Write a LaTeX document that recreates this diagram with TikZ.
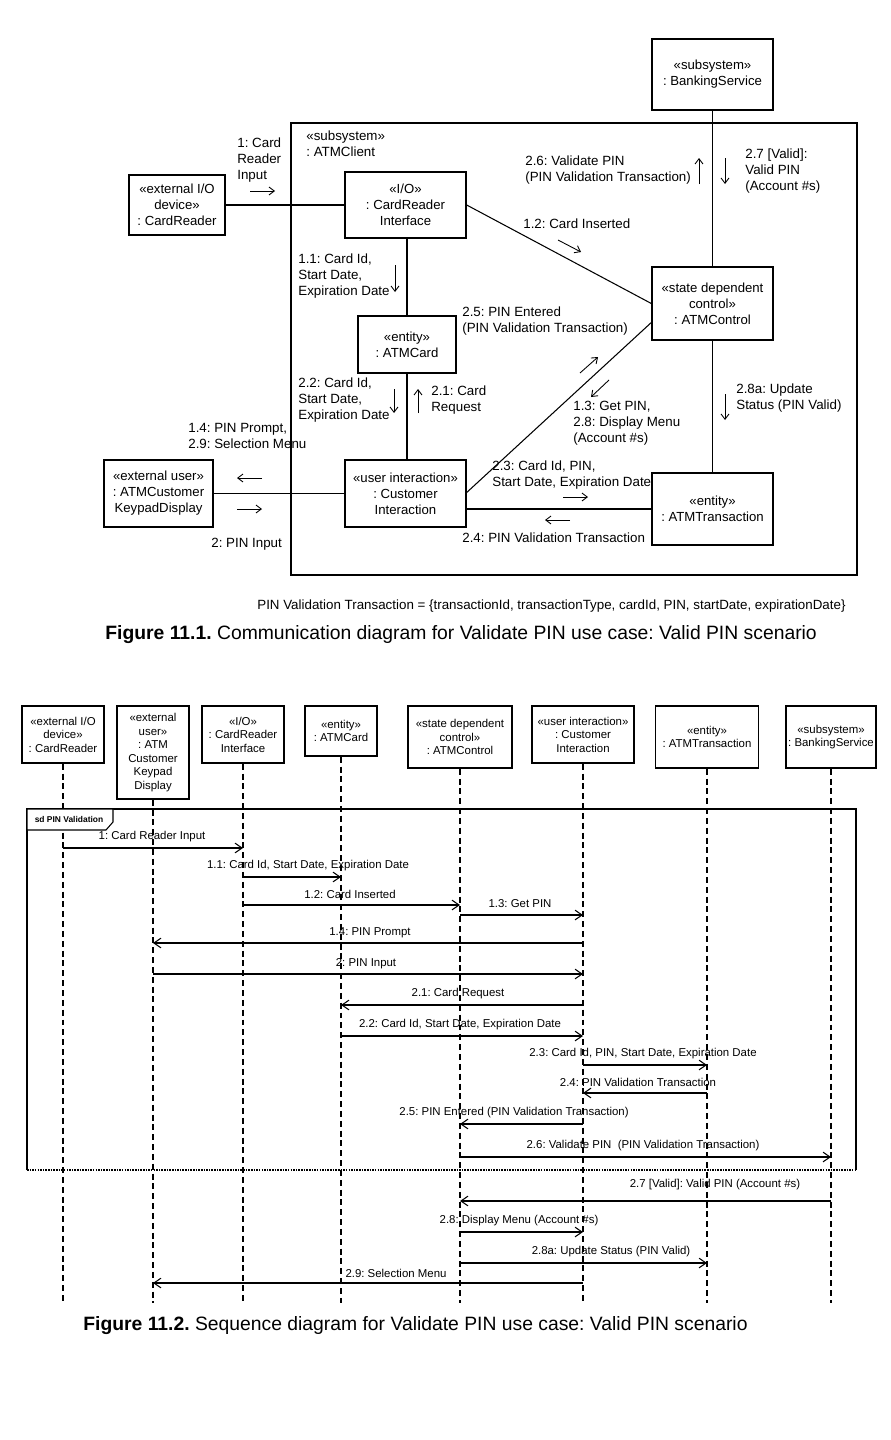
\documentclass[tikz,border=0pt]{standalone}
\usepackage{fontspec}
\setmainfont{Liberation Sans}
\usetikzlibrary{arrows.meta,calc}
\frenchspacing
\newcommand{\fs}[2]{\fontsize{#1}{#2}\selectfont}
\newcommand{\seqmsg}[6]{%
  \draw[msg] (#1 |- 0,#3) -- (#2 |- 0,#3);
  \node[msglabel] at (#4,#5) {#6};}

\begin{document}
\begin{tikzpicture}[x=0.02cm, y=-0.02cm,
    size/.style 2 args={minimum width=#1*0.2mm, minimum height=#2*0.2mm},
    obj/.style={draw, line width=0.8pt, align=center, inner sep=0pt, font=\fs{7.5}{9.1}},
    link/.style={line width=0.6pt},
    dir/.style={line width=0.5pt, -{Straight Barb[length=3pt,width=4.5pt]}},
    note/.style={align=left, inner sep=0pt, anchor=west, font=\fs{7.6}{9.1}},
    caption/.style={anchor=west, inner sep=0pt, font=\fs{11}{13}},
    head/.style={draw, line width=0.8pt, align=center, inner sep=0pt, fill=white, font=\fs{6.5}{7.7}},
    lifeline/.style={line width=0.6pt, dash pattern=on 3.4pt off 2.2pt},
    msg/.style={line width=0.6pt, -{Straight Barb[length=4pt,width=5.5pt]}},
    msglabel/.style={inner sep=0pt, font=\fs{6.5}{7.7}},
    frameline/.style={line width=0.6pt},
    cutline/.style={line width=1.4pt, dash pattern=on 0.9pt off 0.6pt}
  ]
    \fill[white] (0,0) rectangle (890,1440);
    \useasboundingbox (0,0) rectangle (890,1440);

    % communication diagram
    \node[draw, line width=0.8pt, size={566}{452}] at (574,349) (client) {};
    \node[obj, size={121}{71}] at (712.5,74.5) (bank) {«subsystem»\\: BankingService};
    \node[obj, size={96}{60}]  at (177,205)    (reader) {«external I/O\\device»\\: CardReader};
    \node[obj, size={121}{66}] at (405.5,205)  (readerif) {«I/O»\\: CardReader\\Interface};
    \node[obj, size={121}{73}] at (712.5,303.5) (control) {«state dependent\\control»\\: ATMControl};
    \node[obj, size={98}{57}]  at (407,344.5)  (card) {«entity»\\: ATMCard};
    \node[obj, size={109}{67}] at (158.5,493.5) (keypad) {«external user»\\: ATMCustomer\\KeypadDisplay};
    \node[obj, size={121}{67}] at (405.5,493.5) (custui) {«user interaction»\\: Customer\\Interaction};
    \node[obj, size={121}{72}] at (712.5,509)  (trans) {«entity»\\: ATMTransaction};

    \draw[link] (reader) -- (readerif);
    \draw[link] (readerif.east) -- (control.west);
    \draw[link] (readerif.south -| card.north) -- (card.north);
    \draw[link] (card.south) -- (custui.north -| card.south);
    \draw[link] (bank) -- (control);
    \draw[link] (control) -- (trans);
    \draw[link] ($(control.west)+(0,19)$) -- ($(custui.east)+(0,-1)$);
    \draw[link] (custui.east |- trans.west) -- (trans.west);
    \draw[link] (keypad) -- (custui);

    \node[note] at (306,144) (clientname) {«subsystem»\\: ATMClient};
    \node[note] at (237,160) (m1) {1: Card\\Reader\\Input};
    \draw[dir] (250,191) -- (275,191);
    \node[note] at (525,170) (m26) {2.6: Validate PIN\\(PIN Validation Transaction)};
    \draw[dir] (699,184) -- (699,158);
    \draw[dir] (725,158) -- (725,184);
    \node[note] at (745,171) (m27) {2.7 [Valid]:\\Valid PIN\\(Account \#s)};
    \node[note] at (523,224) (m12) {1.2: Card Inserted};
    \draw[dir] (558,240) -- (581,252);
    \node[note] at (298,276) (m11) {1.1: Card Id,\\Start Date,\\Expiration Date};
    \draw[dir] (395,265) -- (395,292);
    \node[note] at (462,321) (m25) {2.5: PIN Entered\\(PIN Validation Transaction)};
    \draw[dir] (580,373) -- (598,357);
    \draw[dir] (609,380) -- (591,397);
    \node[note] at (573,423) (m13) {1.3: Get PIN,\\2.8: Display Menu\\(Account \#s)};
    \node[note] at (298,400) (m22) {2.2: Card Id,\\Start Date,\\Expiration Date};
    \draw[dir] (394,389) -- (394,413);
    \draw[dir] (418,413) -- (418,389);
    \node[note] at (431,400) (m21) {2.1: Card\\Request};
    \draw[dir] (725,394) -- (725,420);
    \node[note] at (736,398) (m28a) {2.8a: Update\\Status (PIN Valid)};
    \node[note] at (188,436) (m14) {1.4: PIN Prompt,\\2.9: Selection Menu};
    \draw[dir] (262,478) -- (237,478);
    \draw[dir] (237,509) -- (262,509);
    \node[note] at (211,544) (m2) {2: PIN Input};
    \node[note] at (492,475) (m23) {2.3: Card Id, PIN,\\Start Date, Expiration Date};
    \draw[dir] (563,497) -- (588,497);
    \draw[dir] (570,520) -- (545,520);
    \node[note] at (462,538) (m24) {2.4: PIN Validation Transaction};
    \node[note] at (257,606) (pvt) {PIN Validation Transaction = \{transactionId, transactionType, cardId, PIN, startDate, expirationDate\}};
    \node[caption] at (105,635) (cap1) {\textbf{Figure 11.1.} Communication diagram for Validate PIN use case: Valid PIN scenario};

    % sequence diagram
    \node[head, size={82}{57}]  at (63,734.5)  (hreader) {«external I/O\\device»\\: CardReader};
    \node[head, size={72}{93}]  at (153,752.5) (hkeypad) {«external\\user»\\: ATM\\Customer\\Keypad\\Display};
    \node[head, size={82}{57}]  at (243,734.5) (hreaderif) {«I/O»\\: CardReader\\Interface};
    \node[head, size={72}{50}]  at (341,731)   (hcard) {«entity»\\: ATMCard};
    \node[head, size={104}{62}] at (460,737)   (hcontrol) {«state dependent\\control»\\: ATMControl};
    \node[head, size={102}{57}] at (583,734.5) (hcustui) {«user interaction»\\: Customer\\Interaction};
    \node[head, size={103}{62}] at (707,737)   (htrans) {«entity»\\: ATMTransaction};
    \node[head, size={90}{62}]  at (831,737)   (hbank) {«subsystem»\\: BankingService};

    \coordinate (lifeend) at (0,1303);
    \foreach \h in {hreader,hkeypad,hreaderif,hcard,hcontrol,hcustui,htrans,hbank}
      \draw[lifeline] (\h.south) -- (\h.south |- lifeend);

    \coordinate (sdnw) at (27,809);
    \coordinate (sdse) at (856,1170);
    \draw[frameline] (sdnw |- sdse) -- (sdnw) -- (sdse |- sdnw) -- (sdse);
    \draw[cutline] (sdnw |- sdse) -- (sdse);
    \draw[frameline, fill=white] (sdnw) -- (113,809) -- (113,822) -- (106,830) -- (27,830) -- cycle;
    \node[inner sep=0pt, font=\fs{4.8}{6}\bfseries] at (69,819.5) (sdname) {sd PIN Validation};

    \seqmsg{hreader}{hreaderif}{848}{152}{837}{1: Card Reader Input}
    \seqmsg{hreaderif}{hcard}{877}{308}{866}{1.1: Card Id, Start Date, Expiration Date}
    \seqmsg{hreaderif}{hcontrol}{905}{350}{894}{1.2: Card Inserted}
    \seqmsg{hcontrol}{hcustui}{915}{520}{904}{1.3: Get PIN}
    \seqmsg{hcustui}{hkeypad}{943}{370}{933}{1.4: PIN Prompt}
    \seqmsg{hkeypad}{hcustui}{974}{366}{964}{2: PIN Input}
    \seqmsg{hcustui}{hcard}{1005}{458}{994}{2.1: Card Request}
    \seqmsg{hcard}{hcustui}{1036}{460}{1025}{2.2: Card Id, Start Date, Expiration Date}
    \seqmsg{hcustui}{htrans}{1065}{643}{1054}{2.3: Card Id, PIN, Start Date, Expiration Date}
    \seqmsg{htrans}{hcustui}{1093}{638}{1082}{2.4: PIN Validation Transaction}
    \seqmsg{hcustui}{hcontrol}{1124}{514}{1113}{2.5: PIN Entered (PIN Validation Transaction)}
    \seqmsg{hcontrol}{hbank}{1157}{643}{1146}{2.6: Validate PIN\ \ (PIN Validation Transaction)}
    \seqmsg{hbank}{hcontrol}{1201}{715}{1185}{2.7 [Valid]: Valid PIN (Account \#s)}
    \seqmsg{hcontrol}{hcustui}{1232}{519}{1221}{2.8: Display Menu (Account \#s)}
    \seqmsg{hcontrol}{htrans}{1263}{611}{1252}{2.8a: Update Status (PIN Valid)}
    \seqmsg{hcustui}{hkeypad}{1283}{396}{1273}{2.9: Selection Menu}

    \node[caption] at (83,1326) (cap2) {\textbf{Figure 11.2.} Sequence diagram for Validate PIN use case: Valid PIN scenario};
  \end{tikzpicture}
\end{document}
